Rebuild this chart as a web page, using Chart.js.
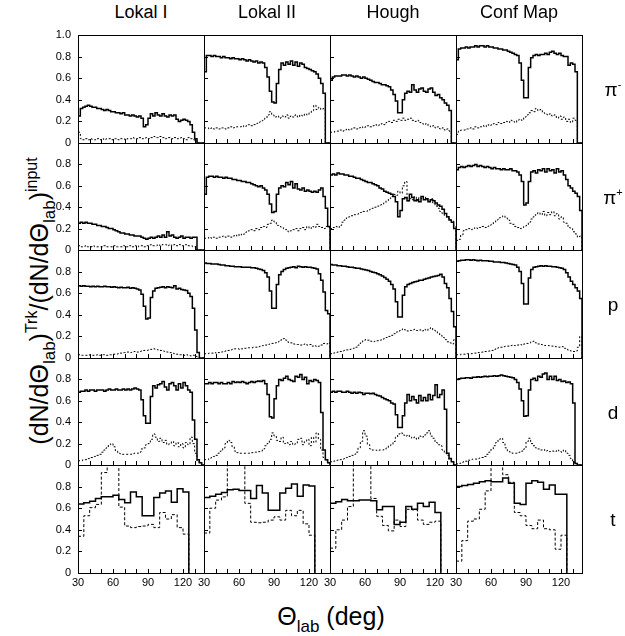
<!DOCTYPE html>
<html>
<head>
<meta charset="utf-8">
<script src="https://cdn.jsdelivr.net/npm/chart.js@4.4.1/dist/chart.umd.min.js"></script>
<style>
  html, body { margin: 0; padding: 0; background: #fff; }
  #fig { position: relative; width: 625px; height: 636px; overflow: hidden;
         font-family: "Liberation Sans", Arial, Helvetica, sans-serif; color: #000; }
  #fig canvas { position: absolute; }
  .lbl { position: absolute; white-space: nowrap; line-height: 1; transform: translate(-50%, -50%); }
  .head { font-size: 18px; }
  .part { font-size: 19px; }
  .part sup { font-size: 11px; vertical-align: 8px; }
  .axt { font-size: 25px; }
  .axt .sb { font-size: 17px; position: relative; top: 7px; }
  .axt .sp { font-size: 16px; position: relative; top: -11px; }
  #ytitle { transform: translate(-50%, -50%) rotate(-90deg); }
</style>
</head>
<body>
<div id="fig">
  <div class="lbl axt" id="xtitle" style="left:331px; top:616px;">&Theta;<span class="sb">lab</span> (deg)</div>
  <div class="lbl axt" id="ytitle" style="left:39px; top:301px;">(dN/d&Theta;<span class="sb">lab</span>)<span class="sp">Trk</span>/(dN/d&Theta;<span class="sb">lab</span>)<span class="sp">input</span></div>
</div>
<script>
// column / row names
const methods = ['Lokal I', 'Lokal II', 'Hough', 'Conf Map'];
const particleNames = ['\u03c0', '\u03c0', 'p', 'd', 't'];
const particleCharges = ['-', '+', '', '', ''];

// bin edges (deg): 2 deg bins for pi/p/d, 5 deg bins for t
const fineEdges = [30,32,34,36,38,40,42,44,46,48,50,52,54,56,58,60,62,64,66,68,70,72,74,76,78,80,82,84,86,88,
  90,92,94,96,98,100,102,104,106,108,110,112,114,116,118,120,122,124,126,128,130,132,134,136,138];
const coarseEdges = [30,35,40,45,50,55,60,65,70,75,80,85,90,95,100,105,110,115,120,125];

// pi-
const lokal1PimSolid = [0.25,0.32,0.33,0.34,0.35,0.34,0.33,0.33,0.32,0.32, 0.31,0.30,0.31,0.30,0.29,0.29,0.28,0.28,0.27,0.28,
  0.26,0.26,0.25,0.26,0.25,0.24,0.25,0.23,0.15,0.17, 0.23,0.27,0.25,0.28,0.26,0.25,0.27,0.25,0.24,0.26,
  0.25,0.26,0.22,0.20,0.21,0.22,0.21,0.20,0.17,0.10, 0.04,0,0,0];
const lokal1PimDotted = [0.10,0.04,0.03,0.04,0.03,0.04,0.03,0.03,0.04,0.03, 0.04,0.03,0.04,0.04,0.03,0.04,0.04,0.03,0.04,0.04,
  0.03,0.04,0.04,0.05,0.04,0.04,0.05,0.04,0.04,0.05, 0.04,0.05,0.06,0.05,0.05,0.06,0.05,0.04,0.05,0.05,
  0.04,0.05,0.04,0.04,0.05,0.04,0.03,0.05,0.04,0.03, 0.02,0,0,0];
const lokal2PimSolid = [0.66,0.81,0.81,0.80,0.81,0.80,0.80,0.79,0.80,0.79, 0.79,0.78,0.79,0.78,0.78,0.77,0.78,0.77,0.76,0.77,
  0.76,0.75,0.76,0.74,0.75,0.74,0.70,0.61,0.48,0.38, 0.37,0.55,0.68,0.74,0.72,0.75,0.73,0.76,0.72,0.75,
  0.71,0.74,0.73,0.70,0.69,0.68,0.67,0.66,0.64,0.60, 0.55,0.46,0,0];
const lokal2PimDotted = [0.14,0.14,0.13,0.14,0.13,0.14,0.13,0.14,0.14,0.13, 0.14,0.15,0.14,0.15,0.15,0.15,0.16,0.15,0.16,0.17,
  0.16,0.17,0.18,0.19,0.20,0.21,0.23,0.26,0.29,0.26, 0.24,0.25,0.23,0.25,0.24,0.26,0.23,0.25,0.24,0.26,
  0.24,0.26,0.25,0.27,0.26,0.28,0.30,0.35,0.31,0.33, 0.31,0.32,0,0];
const houghPimSolid = [0.58,0.61,0.62,0.62,0.62,0.63,0.63,0.62,0.63,0.62, 0.61,0.62,0.61,0.60,0.61,0.60,0.59,0.58,0.57,0.56,
  0.56,0.55,0.54,0.54,0.53,0.52,0.49,0.45,0.39,0.28, 0.28,0.40,0.46,0.48,0.47,0.54,0.49,0.47,0.50,0.51,
  0.48,0.47,0.50,0.51,0.47,0.44,0.45,0.42,0.40,0.37, 0.35,0.30,0,0];
const houghPimDotted = [0.10,0.10,0.11,0.11,0.12,0.11,0.12,0.13,0.12,0.13, 0.14,0.13,0.14,0.15,0.14,0.15,0.16,0.15,0.16,0.17,
  0.16,0.17,0.18,0.17,0.19,0.20,0.19,0.21,0.20,0.22, 0.21,0.23,0.21,0.22,0.23,0.21,0.20,0.21,0.19,0.18,
  0.17,0.18,0.16,0.15,0.16,0.14,0.15,0.13,0.14,0.12, 0.13,0.11,0,0];
const confPimSolid = [0.77,0.87,0.88,0.88,0.89,0.88,0.89,0.89,0.90,0.89, 0.90,0.90,0.89,0.90,0.89,0.89,0.88,0.88,0.87,0.87,
  0.86,0.86,0.85,0.84,0.83,0.82,0.81,0.74,0.58,0.42, 0.42,0.70,0.79,0.81,0.82,0.81,0.82,0.82,0.83,0.82,
  0.84,0.85,0.83,0.82,0.83,0.81,0.80,0.80,0.72,0.74, 0.73,0.66,0,0];
const confPimDotted = [0.08,0.11,0.12,0.12,0.13,0.13,0.14,0.13,0.15,0.14, 0.15,0.16,0.15,0.17,0.16,0.17,0.18,0.17,0.19,0.18,
  0.19,0.20,0.19,0.21,0.20,0.19,0.21,0.22,0.21,0.24, 0.26,0.28,0.30,0.29,0.32,0.30,0.31,0.28,0.27,0.26,
  0.27,0.25,0.26,0.23,0.25,0.22,0.24,0.20,0.22,0.19, 0.23,0.21,0,0];

// pi+
const lokal1PipSolid = [0.25,0.26,0.25,0.26,0.25,0.25,0.24,0.24,0.23,0.23, 0.22,0.22,0.21,0.20,0.20,0.19,0.18,0.17,0.16,0.16,
  0.15,0.15,0.14,0.14,0.13,0.13,0.13,0.12,0.11,0.10, 0.11,0.12,0.11,0.12,0.13,0.12,0.14,0.12,0.17,0.13,
  0.14,0.12,0.11,0.12,0.13,0.11,0.12,0.12,0.11,0.12, 0.12,0,0,0];
const lokal1PipDotted = [0.04,0.03,0.03,0.04,0.03,0.03,0.04,0.03,0.03,0.03, 0.03,0.04,0.03,0.03,0.03,0.04,0.03,0.03,0.03,0.04,
  0.03,0.03,0.04,0.03,0.04,0.03,0.04,0.04,0.03,0.04, 0.04,0.05,0.04,0.04,0.05,0.04,0.05,0.05,0.04,0.05,
  0.04,0.05,0.04,0.05,0.04,0.04,0.05,0.04,0.04,0.03, 0.03,0,0,0];
const lokal2PipSolid = [0.52,0.68,0.69,0.69,0.68,0.69,0.68,0.68,0.67,0.68, 0.67,0.67,0.66,0.66,0.65,0.65,0.64,0.64,0.63,0.63,
  0.62,0.61,0.60,0.59,0.60,0.58,0.56,0.52,0.43,0.35, 0.36,0.52,0.58,0.60,0.59,0.63,0.61,0.64,0.58,0.62,
  0.57,0.56,0.58,0.55,0.56,0.55,0.54,0.55,0.54,0.56, 0.58,0.50,0.39,0.22];
const lokal2PipDotted = [0.11,0.11,0.12,0.11,0.12,0.11,0.12,0.12,0.13,0.12, 0.13,0.12,0.13,0.14,0.13,0.15,0.14,0.15,0.17,0.18,
  0.19,0.18,0.20,0.19,0.21,0.22,0.21,0.24,0.25,0.28, 0.26,0.23,0.22,0.21,0.20,0.19,0.17,0.18,0.19,0.20,
  0.18,0.20,0.21,0.19,0.22,0.20,0.22,0.21,0.24,0.22, 0.21,0.20,0.22,0.21];
const houghPipSolid = [0.70,0.71,0.70,0.72,0.71,0.71,0.70,0.70,0.69,0.69, 0.68,0.67,0.67,0.66,0.65,0.64,0.63,0.63,0.62,0.61,
  0.60,0.58,0.57,0.55,0.54,0.53,0.52,0.50,0.45,0.31, 0.37,0.48,0.49,0.46,0.52,0.49,0.46,0.47,0.45,0.50,
  0.47,0.48,0.45,0.47,0.46,0.44,0.42,0.41,0.38,0.34, 0.31,0.28,0.26,0.20];
const houghPipDotted = [0.20,0.21,0.22,0.21,0.23,0.26,0.28,0.30,0.31,0.32, 0.33,0.33,0.34,0.35,0.36,0.36,0.37,0.38,0.39,0.40,
  0.41,0.42,0.43,0.44,0.46,0.48,0.50,0.52,0.51,0.55, 0.53,0.60,0.64,0.46,0.48,0.47,0.50,0.46,0.49,0.48,
  0.50,0.47,0.46,0.48,0.44,0.41,0.39,0.36,0.34,0.32, 0.30,0.28,0.27,0.22];
const confPipSolid = [0.75,0.77,0.78,0.77,0.78,0.79,0.78,0.79,0.80,0.78, 0.79,0.78,0.77,0.78,0.77,0.76,0.77,0.76,0.76,0.75,
  0.76,0.75,0.75,0.76,0.74,0.74,0.73,0.70,0.64,0.42, 0.44,0.64,0.73,0.74,0.72,0.75,0.74,0.76,0.73,0.76,
  0.74,0.75,0.72,0.76,0.73,0.74,0.70,0.66,0.60,0.58, 0.55,0.53,0.50,0.37];
const confPipDotted = [0.09,0.10,0.14,0.18,0.19,0.20,0.19,0.20,0.21,0.20, 0.21,0.22,0.21,0.22,0.23,0.24,0.26,0.28,0.30,0.31,
  0.32,0.30,0.28,0.25,0.24,0.22,0.21,0.20,0.21,0.22, 0.23,0.26,0.29,0.31,0.33,0.35,0.33,0.36,0.32,0.35,
  0.33,0.36,0.32,0.34,0.29,0.31,0.26,0.25,0.21,0.20, 0.17,0.15,0.12,0.13];

// p
const lokal1PSolid = [0.67,0.665,0.67,0.665,0.665,0.66,0.665,0.66,0.665,0.66, 0.66,0.665,0.66,0.66,0.655,0.66,0.655,0.65,0.655,0.65,
  0.65,0.655,0.645,0.65,0.645,0.64,0.63,0.59,0.48,0.36, 0.37,0.56,0.62,0.645,0.65,0.655,0.66,0.65,0.66,0.655,
  0.65,0.67,0.64,0.645,0.635,0.63,0.625,0.60,0.57,0.46, 0.26,0.05,0,0];
const lokal1PDotted = [0.03,0.025,0.025,0.025,0.03,0.025,0.025,0.025,0.03,0.025, 0.03,0.03,0.025,0.03,0.03,0.035,0.035,0.04,0.045,0.05,
  0.05,0.055,0.05,0.055,0.06,0.055,0.06,0.065,0.07,0.07, 0.075,0.08,0.085,0.08,0.075,0.07,0.065,0.06,0.055,0.05,
  0.045,0.04,0.035,0.03,0.03,0.025,0.03,0.025,0.02,0.025, 0.015,0.01,0,0];
const lokal2PSolid = [0.88,0.875,0.875,0.87,0.87,0.87,0.865,0.86,0.86,0.855, 0.855,0.85,0.85,0.845,0.845,0.845,0.84,0.84,0.84,0.84,
  0.835,0.835,0.83,0.825,0.82,0.81,0.79,0.75,0.62,0.46, 0.46,0.68,0.77,0.80,0.82,0.83,0.835,0.84,0.845,0.835,
  0.85,0.845,0.84,0.845,0.84,0.84,0.835,0.83,0.825,0.78, 0.72,0.61,0.44,0.41];
const lokal2PDotted = [0.04,0.04,0.045,0.045,0.05,0.045,0.05,0.055,0.06,0.065, 0.07,0.075,0.08,0.085,0.085,0.08,0.085,0.09,0.09,0.095,
  0.095,0.10,0.10,0.105,0.11,0.115,0.12,0.125,0.13,0.135, 0.14,0.145,0.155,0.17,0.18,0.165,0.145,0.14,0.13,0.125,
  0.125,0.12,0.125,0.13,0.12,0.125,0.11,0.115,0.105,0.11, 0.12,0.135,0.13,0.14];
const houghPSolid = [0.865,0.86,0.86,0.855,0.855,0.85,0.85,0.845,0.84,0.84, 0.835,0.83,0.83,0.825,0.82,0.815,0.81,0.80,0.795,0.79,
  0.78,0.77,0.76,0.745,0.73,0.71,0.68,0.64,0.52,0.38, 0.38,0.58,0.66,0.68,0.69,0.70,0.705,0.71,0.72,0.72,
  0.73,0.735,0.74,0.75,0.755,0.76,0.765,0.775,0.75,0.69, 0.65,0.55,0.43,0.29];
const houghPDotted = [0.04,0.045,0.05,0.055,0.06,0.065,0.07,0.075,0.08,0.085, 0.09,0.10,0.12,0.14,0.16,0.17,0.165,0.155,0.15,0.155,
  0.16,0.165,0.17,0.18,0.19,0.20,0.21,0.225,0.24,0.25, 0.26,0.27,0.26,0.25,0.255,0.26,0.265,0.255,0.26,0.25,
  0.265,0.255,0.27,0.28,0.26,0.25,0.23,0.21,0.19,0.17, 0.15,0.14,0.13,0.17];
const confPSolid = [0.895,0.90,0.905,0.905,0.91,0.91,0.905,0.91,0.905,0.90, 0.905,0.90,0.90,0.90,0.895,0.895,0.89,0.89,0.89,0.885,
  0.885,0.88,0.875,0.87,0.865,0.86,0.84,0.80,0.69,0.50, 0.50,0.74,0.82,0.84,0.845,0.85,0.855,0.85,0.855,0.85,
  0.85,0.845,0.845,0.84,0.835,0.83,0.82,0.79,0.75,0.71, 0.68,0.65,0.62,0.55];
const confPDotted = [0.03,0.03,0.035,0.035,0.04,0.04,0.04,0.045,0.045,0.05, 0.05,0.055,0.06,0.06,0.065,0.07,0.08,0.09,0.095,0.10,
  0.105,0.11,0.11,0.115,0.12,0.115,0.12,0.125,0.12,0.13, 0.135,0.14,0.15,0.155,0.14,0.13,0.125,0.12,0.115,0.115,
  0.11,0.11,0.105,0.105,0.10,0.105,0.09,0.08,0.07,0.065, 0.06,0.065,0.10,0.20];

// d
const lokal1DSolid = [0.68,0.69,0.69,0.70,0.69,0.70,0.70,0.69,0.70,0.70, 0.70,0.69,0.70,0.71,0.70,0.70,0.71,0.70,0.70,0.71,
  0.70,0.71,0.70,0.71,0.72,0.71,0.70,0.61,0.46,0.39, 0.39,0.64,0.74,0.72,0.75,0.76,0.78,0.73,0.70,0.76,
  0.77,0.74,0.70,0.76,0.72,0.77,0.74,0.70,0.68,0.42, 0.24,0.05,0.02,0];
const lokal1DDotted = [0.04,0.04,0.05,0.05,0.06,0.07,0.07,0.08,0.09,0.10, 0.12,0.14,0.16,0.19,0.20,0.17,0.13,0.11,0.105,0.10,
  0.10,0.10,0.10,0.105,0.11,0.11,0.12,0.15,0.16,0.19, 0.20,0.24,0.29,0.26,0.22,0.25,0.21,0.23,0.19,0.20,
  0.22,0.18,0.21,0.17,0.20,0.16,0.21,0.19,0.26,0.20, 0.11,0.03,0.02,0];
const lokal2DSolid = [0.76,0.76,0.77,0.76,0.77,0.77,0.76,0.77,0.76,0.76, 0.77,0.76,0.78,0.77,0.775,0.77,0.78,0.77,0.76,0.77,
  0.78,0.77,0.78,0.785,0.78,0.79,0.76,0.66,0.45,0.44, 0.62,0.74,0.80,0.79,0.81,0.83,0.80,0.79,0.78,0.83,
  0.82,0.845,0.80,0.82,0.76,0.79,0.78,0.80,0.79,0.77, 0.49,0.14,0.05,0.02];
const lokal2DDotted = [0.05,0.05,0.06,0.07,0.08,0.09,0.11,0.13,0.16,0.20, 0.23,0.21,0.17,0.13,0.115,0.11,0.11,0.11,0.11,0.11,
  0.115,0.12,0.12,0.125,0.13,0.15,0.18,0.20,0.24,0.30, 0.27,0.23,0.22,0.26,0.20,0.21,0.19,0.22,0.19,0.20,
  0.24,0.25,0.19,0.22,0.24,0.18,0.26,0.21,0.30,0.24, 0.14,0.07,0.04,0.02];
const houghDSolid = [0.68,0.69,0.68,0.69,0.69,0.68,0.68,0.69,0.68,0.67, 0.68,0.67,0.68,0.675,0.66,0.67,0.67,0.665,0.67,0.66,
  0.65,0.645,0.63,0.62,0.61,0.60,0.58,0.57,0.47,0.35, 0.35,0.46,0.58,0.66,0.60,0.64,0.61,0.58,0.65,0.60,
  0.63,0.60,0.66,0.61,0.65,0.75,0.63,0.66,0.70,0.52, 0.11,0.06,0.03,0];
const houghDDotted = [0.03,0.035,0.04,0.045,0.05,0.055,0.06,0.07,0.08,0.09, 0.10,0.12,0.16,0.22,0.32,0.27,0.19,0.15,0.14,0.14,
  0.135,0.14,0.14,0.145,0.16,0.18,0.19,0.22,0.26,0.29, 0.30,0.28,0.27,0.28,0.26,0.25,0.26,0.24,0.27,0.26,
  0.28,0.30,0.32,0.27,0.25,0.21,0.19,0.18,0.14,0.11, 0.09,0.05,0.03,0];
const confDSolid = [0.80,0.805,0.81,0.81,0.815,0.815,0.81,0.82,0.82,0.825, 0.82,0.825,0.83,0.825,0.83,0.83,0.835,0.83,0.835,0.84,
  0.835,0.83,0.825,0.82,0.815,0.80,0.77,0.71,0.60,0.455, 0.46,0.70,0.80,0.81,0.79,0.83,0.82,0.85,0.86,0.80,
  0.83,0.80,0.83,0.79,0.80,0.78,0.785,0.77,0.775,0.76, 0.58,0.015,0,0];
const confDDotted = [0.01,0.015,0.02,0.03,0.035,0.045,0.05,0.055,0.055,0.06, 0.065,0.07,0.08,0.10,0.12,0.15,0.18,0.21,0.24,0.25,
  0.21,0.16,0.13,0.12,0.11,0.11,0.11,0.12,0.13,0.15, 0.22,0.25,0.20,0.18,0.16,0.15,0.14,0.145,0.13,0.135,
  0.125,0.13,0.125,0.14,0.13,0.12,0.14,0.11,0.09,0.06, 0.03,0.015,0,0];

// t (5 deg bins)
const lokal1TSolid = [0.64,0.65,0.665,0.69,0.705,0.705,0.72,0.68,0.65,0.75,0.705,0.53,0.53,0.70,0.74,0.76,0.655,0.78,0.75];
const lokal1TDotted = [0.34,0.53,0.605,0.635,0.93,1.3,1.3,0.61,0.435,0.42,0.43,0.435,0.45,0.42,0.56,0.50,0.54,0.42,0.36];
const lokal2TSolid = [0.70,0.71,0.73,0.745,0.77,0.775,0.765,0.765,0.69,0.81,0.74,0.58,0.58,0.74,0.785,0.825,0.71,0.815,0.805];
const lokal2TDotted = [0.37,0.60,0.675,0.705,1.3,1.3,1.3,0.645,0.47,0.465,0.47,0.49,0.52,0.49,0.58,0.53,0.58,0.455,0.35];
const houghTSolid = [0.645,0.66,0.68,0.67,0.67,0.675,0.675,0.67,0.585,0.615,0.615,0.45,0.47,0.615,0.59,0.645,0.615,0.655,0.56];
const houghTDotted = [0.23,0.40,0.49,0.615,1.3,1.3,1.3,0.69,0.525,0.44,0.39,0.49,0.43,0.59,0.585,0.49,0.45,0.47,0.48];
const confTSolid = [0.80,0.81,0.82,0.83,0.845,0.855,0.845,0.845,0.88,0.83,0.645,0.635,0.83,0.855,0.84,0.775,0.815,0.73,0.73];
const confTDotted = [0.11,0.30,0.48,0.50,0.59,0.76,1.3,1.3,0.91,0.84,0.56,0.53,0.44,0.41,0.49,0.41,0.40,0.22,0.35];

const solidGrid = [
  [lokal1PimSolid, lokal2PimSolid, houghPimSolid, confPimSolid],
  [lokal1PipSolid, lokal2PipSolid, houghPipSolid, confPipSolid],
  [lokal1PSolid, lokal2PSolid, houghPSolid, confPSolid],
  [lokal1DSolid, lokal2DSolid, houghDSolid, confDSolid],
  [lokal1TSolid, lokal2TSolid, houghTSolid, confTSolid]
];
const dottedGrid = [
  [lokal1PimDotted, lokal2PimDotted, houghPimDotted, confPimDotted],
  [lokal1PipDotted, lokal2PipDotted, houghPipDotted, confPipDotted],
  [lokal1PDotted, lokal2PDotted, houghPDotted, confPDotted],
  [lokal1DDotted, lokal2DDotted, houghDDotted, confDDotted],
  [lokal1TDotted, lokal2TDotted, houghTDotted, confTDotted]
];

// layout
const PLOT_LEFT = 78, COL_W = 126, PLOT_TOP = 35, ROW_H = 107.6;
const PAD = { left: 10, right: 10, top: 8, bottom: 7 };
const Y_AXIS_W = 40, X_AXIS_H = 22;
const TICK_FONT = { family: '"Liberation Sans", Arial, Helvetica, sans-serif', size: 11 };

// histogram edges -> step points
function stepPoints(edges, values) {
  const pts = values.map((v, i) => ({ x: edges[i], y: v }));
  pts.push({ x: edges[values.length], y: 0 });
  return pts;
}

// box + inward tick marks
const framePlugin = {
  id: 'frame',
  afterDraw(chart) {
    const { ctx, chartArea: a, scales: { x, y } } = chart;
    ctx.save();
    ctx.strokeStyle = '#000';
    ctx.lineWidth = 1;
    ctx.strokeRect(a.left + 0.5, a.top + 0.5, a.right - a.left, a.bottom - a.top);
    ctx.beginPath();
    x.ticks.forEach(t => {
      const px = Math.round(x.getPixelForValue(t.value)) + 0.5;
      ctx.moveTo(px, a.bottom);
      ctx.lineTo(px, a.bottom - 4);
    });
    y.ticks.forEach(t => {
      const py = Math.round(y.getPixelForValue(t.value)) + 0.5;
      ctx.moveTo(a.left, py);
      ctx.lineTo(a.left + 4, py);
    });
    ctx.stroke();
    ctx.restore();
  }
};

const fig = document.getElementById('fig');

function zeroPad(s) {
  s.paddingLeft = 0; s.paddingRight = 0; s.paddingTop = 0; s.paddingBottom = 0;
}

for (let r = 0; r < 5; r++) {
  const top = Math.round(PLOT_TOP + r * ROW_H);
  const bottom = Math.round(PLOT_TOP + (r + 1) * ROW_H);
  const edges = r < 4 ? fineEdges : coarseEdges;
  for (let c = 0; c < 4; c++) {
    const axisW = c === 0 ? Y_AXIS_W : 0;
    const axisH = r === 4 ? X_AXIS_H : 0;
    const cv = document.createElement('canvas');
    const w = PAD.left + axisW + COL_W + PAD.right;
    const h = PAD.top + (bottom - top) + axisH + PAD.bottom;
    cv.width = w; cv.height = h;
    cv.style.width = w + 'px'; cv.style.height = h + 'px';
    cv.style.left = (PLOT_LEFT + c * COL_W - axisW - PAD.left) + 'px';
    cv.style.top = (top - PAD.top) + 'px';
    fig.appendChild(cv);

    new Chart(cv, {
      type: 'line',
      data: {
        datasets: [
          { data: stepPoints(edges, solidGrid[r][c]), borderColor: '#000', borderWidth: 1.5,
            stepped: 'before', pointRadius: 0, fill: false, clip: 0 },
          { data: stepPoints(edges, dottedGrid[r][c]), borderColor: '#000', borderWidth: 1,
            borderDash: r < 4 ? [2, 2] : [3, 2], stepped: 'before', pointRadius: 0, fill: false, clip: 0 }
        ]
      },
      options: {
        responsive: false,
        animation: false,
        devicePixelRatio: 1,
        events: [],
        layout: { padding: PAD },
        plugins: { legend: { display: false }, tooltip: { enabled: false } },
        scales: {
          x: {
            type: 'linear', min: 30, max: 138,
            grid: { display: false, drawTicks: false }, border: { display: false },
            ticks: {
              display: r === 4, stepSize: 10, includeBounds: false, autoSkip: false,
              maxRotation: 0, padding: 3, color: '#000', font: TICK_FONT,
              callback: v => (v % 30 === 0 ? String(v) : '')
            },
            afterFit: s => { s.height = axisH; zeroPad(s); }
          },
          y: {
            type: 'linear', min: 0, max: 1,
            grid: { display: false, drawTicks: false }, border: { display: false },
            ticks: {
              display: c === 0, stepSize: 0.2, includeBounds: false, autoSkip: false,
              padding: 7, color: '#000', font: TICK_FONT,
              callback: v => {
                if (Math.abs(v) < 1e-6) return '0';
                if (r > 0 && v > 0.99) return '';
                return v.toFixed(1);
              }
            },
            afterFit: s => { s.width = axisW; zeroPad(s); }
          }
        }
      },
      plugins: [framePlugin]
    });
  }

  // particle label at right
  const pl = document.createElement('div');
  pl.className = 'lbl part';
  pl.style.left = '613px';
  pl.style.top = ((top + bottom) / 2) + 'px';
  pl.innerHTML = particleNames[r] + (particleCharges[r] ? '<sup>' + particleCharges[r] + '</sup>' : '');
  fig.appendChild(pl);
}

methods.forEach((m, c) => {
  const d = document.createElement('div');
  d.className = 'lbl head';
  d.style.left = (PLOT_LEFT + c * COL_W + COL_W / 2) + 'px';
  d.style.top = '12px';
  d.textContent = m;
  fig.appendChild(d);
});
</script>
</body>
</html>
